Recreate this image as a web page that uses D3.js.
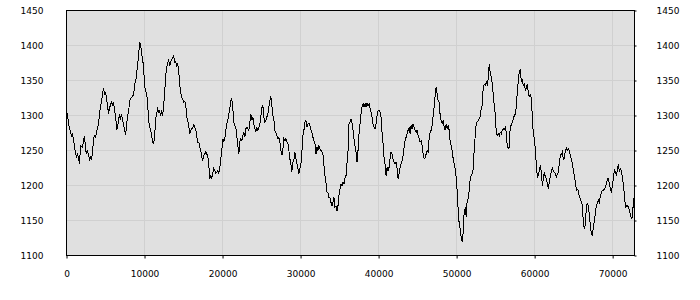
<!DOCTYPE html>
<html>
<head>
<meta charset="utf-8">
<script src="https://cdn.jsdelivr.net/npm/d3@7"></script>
<style>
  body { margin: 0; background: #fff; }
  svg { display: block; }
</style>
</head>
<body>
<div id="chart"></div>
<script>
// one reading per screen column
const values = [
  1301,1302,1288,1282,1276,1271,1274,1265,1257,1245,
  1241,1245,1238,1231,1257,1256,1255,1264,1271,1252,
  1245,1250,1243,1237,1240,1236,1248,1267,1271,1269,
  1276,1282,1288,1302,1314,1319,1333,1337,1331,1333,
  1324,1314,1302,1312,1314,1321,1314,1319,1305,1302,
  1279,1283,1295,1300,1296,1302,1293,1286,1279,1272,
  1286,1300,1305,1321,1324,1326,1328,1328,1345,1348,
  1360,1371,1388,1404,1402,1388,1381,1367,1341,1336,
  1331,1317,1293,1283,1279,1271,1262,1260,1271,1295,
  1302,1309,1305,1307,1299,1307,1300,1314,1333,1357,
  1369,1375,1379,1371,1376,1380,1382,1385,1376,1377,
  1371,1374,1363,1345,1333,1326,1324,1319,1320,1317,
  1298,1293,1286,1274,1279,1281,1282,1287,1283,1281,
  1271,1262,1262,1255,1250,1240,1236,1243,1245,1248,
  1245,1243,1231,1210,1214,1210,1217,1224,1221,1218,
  1219,1221,1217,1224,1238,1250,1267,1263,1267,1279,
  1288,1293,1302,1310,1321,1324,1312,1290,1286,1283,
  1271,1257,1245,1262,1267,1264,1271,1276,1269,1281,
  1283,1281,1279,1290,1302,1293,1298,1288,1281,1277,
  1283,1279,1283,1288,1298,1312,1314,1298,1290,1293,
  1298,1302,1312,1321,1327,1314,1300,1295,1279,1275,
  1272,1267,1269,1262,1250,1243,1252,1267,1264,1267,
  1262,1260,1250,1238,1231,1220,1233,1236,1248,1239,
  1231,1224,1217,1224,1231,1248,1271,1279,1290,1293,
  1283,1288,1289,1286,1279,1276,1269,1264,1260,1245,
  1255,1250,1257,1252,1250,1248,1245,1229,1214,1205,
  1191,1190,1182,1183,1176,1171,1176,1183,1169,1171,
  1163,1171,1186,1195,1202,1199,1205,1202,1210,1214,
  1231,1248,1288,1291,1295,1290,1279,1267,1257,1248,
  1233,1250,1274,1288,1302,1312,1317,1312,1317,1312,
  1318,1314,1317,1310,1305,1298,1288,1283,1281,1288,
  1300,1307,1308,1305,1298,1276,1260,1240,1231,1214,
  1226,1221,1226,1238,1248,1245,1238,1233,1231,1233,
  1224,1210,1217,1226,1231,1236,1243,1255,1264,1269,
  1274,1279,1283,1274,1286,1281,1288,1283,1279,1276,
  1279,1271,1267,1262,1264,1257,1245,1238,1240,1245,
  1250,1248,1267,1276,1279,1286,1300,1312,1329,1341,
  1331,1321,1319,1300,1293,1288,1293,1283,1279,1288,
  1281,1285,1279,1262,1257,1250,1238,1231,1224,1212,
  1191,1164,1145,1138,1126,1119,1133,1164,1167,1155,
  1179,1181,1193,1210,1214,1217,1224,1252,1271,1288,
  1291,1293,1295,1298,1310,1314,1341,1345,1343,1348,
  1344,1352,1374,1360,1355,1345,1331,1314,1302,1276,
  1271,1274,1271,1276,1274,1279,1281,1280,1283,1276,
  1255,1253,1255,1286,1286,1290,1295,1300,1302,1312,
  1333,1350,1362,1367,1348,1350,1343,1345,1336,1338,
  1345,1333,1326,1331,1324,1298,1274,1267,1252,1229,
  1212,1214,1221,1229,1219,1200,1210,1219,1212,1210,
  1202,1195,1205,1214,1219,1226,1221,1219,1217,1212,
  1217,1219,1233,1243,1245,1248,1236,1240,1250,1253,
  1250,1252,1250,1243,1238,1231,1221,1214,1205,1193,
  1194,1193,1183,1181,1176,1171,1145,1138,1145,1171,
  1174,1171,1157,1141,1131,1129,1141,1150,1162,1171,
  1176,1179,1176,1186,1190,1193,1193,1195,1198,1202,
  1210,1210,1202,1195,1190,1202,1210,1224,1219,1214,
  1224,1230,1219,1224,1221,1210,1200,1186,1169,1171,
  1171,1169,1164,1157,1153,1155,1181,1180
];
const xMax = 72800;
const step = xMax / (values.length - 1);

const xTicks = [0, 10000, 20000, 30000, 40000, 50000, 60000, 70000];
const yTicks = [1100, 1150, 1200, 1250, 1300, 1350, 1400, 1450];

const width = 700, height = 300;
const plotLeft = 66.5, plotRight = 634.5, plotTop = 10.5, plotBottom = 255.5;

const x = d3.scaleLinear().domain([0, xMax]).range([plotLeft, plotRight]);
const y = d3.scaleLinear().domain([1100, 1450]).range([plotBottom, plotTop]);

const svg = d3.select("#chart").append("svg")
  .attr("width", width)
  .attr("height", height);

svg.append("rect")
  .attr("x", plotLeft).attr("y", plotTop)
  .attr("width", plotRight - plotLeft).attr("height", plotBottom - plotTop)
  .attr("fill", "#e0e0e0");

const grid = svg.append("g")
  .attr("stroke", "#d0d0d0")
  .attr("shape-rendering", "crispEdges");

grid.selectAll("line.v")
  .data(xTicks.slice(1))
  .join("line")
  .attr("class", "v")
  .attr("x1", d => x(d)).attr("x2", d => x(d))
  .attr("y1", plotTop).attr("y2", plotBottom);

grid.selectAll("line.h")
  .data(yTicks.slice(1, -1))
  .join("line")
  .attr("class", "h")
  .attr("x1", plotLeft).attr("x2", plotRight)
  .attr("y1", d => y(d)).attr("y2", d => y(d));

const line = d3.line()
  .x((d, i) => x(i * step))
  .y(d => y(d));

svg.append("path")
  .datum(values)
  .attr("fill", "none")
  .attr("stroke", "#000")
  .attr("stroke-width", 1)
  .attr("shape-rendering", "crispEdges")
  .attr("d", line);

const fmt = d3.format("d");

const axisFont = g => g
  .attr("font-family", "DejaVu Sans")
  .attr("font-size", 9)
  .call(g => g.select(".domain").remove());

svg.append("g")
  .attr("transform", `translate(0,${plotBottom})`)
  .call(d3.axisBottom(x).tickValues(xTicks).tickSize(3).tickSizeOuter(0)
    .tickPadding(12).tickFormat(fmt))
  .call(axisFont);

svg.append("g")
  .attr("transform", `translate(${plotLeft},0)`)
  .call(d3.axisLeft(y).tickValues(yTicks).tickSize(0).tickPadding(23)
    .tickFormat(fmt))
  .call(axisFont);

svg.append("g")
  .attr("transform", `translate(${plotRight},0)`)
  .call(d3.axisRight(y).tickValues(yTicks).tickSize(2).tickSizeOuter(0)
    .tickPadding(20).tickFormat(fmt))
  .call(axisFont);

svg.append("rect")
  .attr("x", plotLeft).attr("y", plotTop)
  .attr("width", plotRight - plotLeft).attr("height", plotBottom - plotTop)
  .attr("fill", "none")
  .attr("stroke", "#000")
  .attr("shape-rendering", "crispEdges");
</script>
</body>
</html>
